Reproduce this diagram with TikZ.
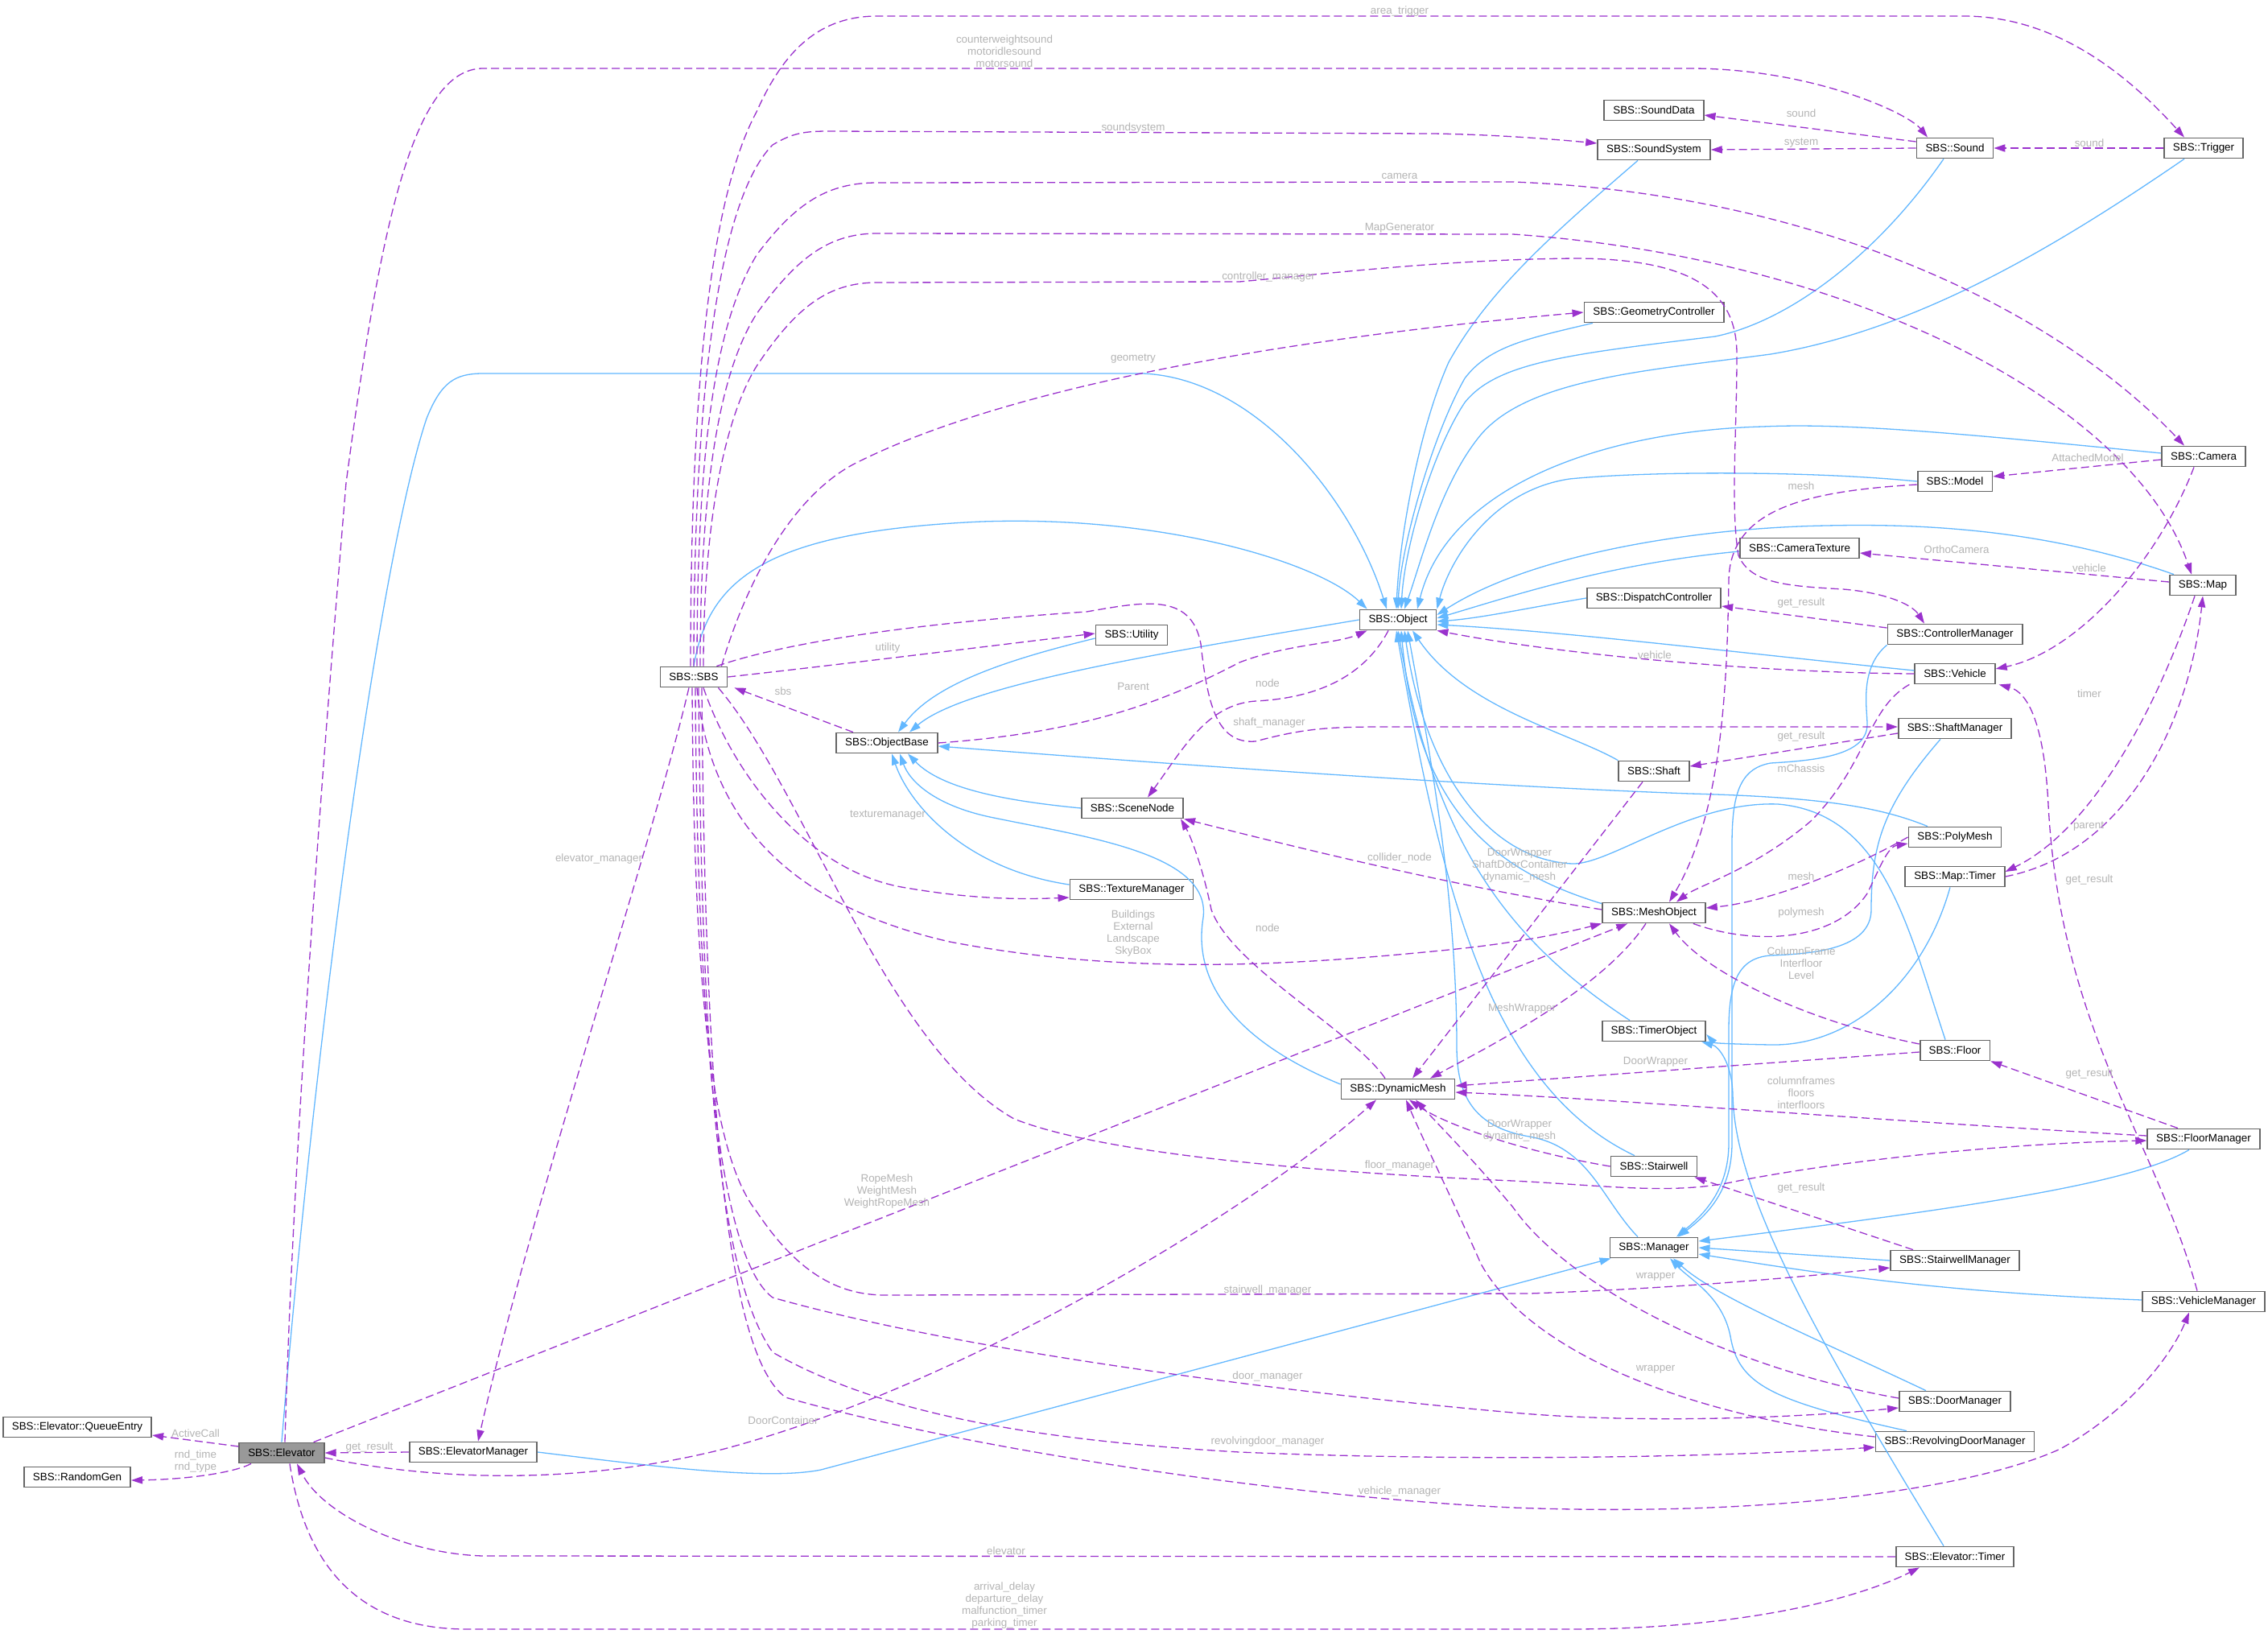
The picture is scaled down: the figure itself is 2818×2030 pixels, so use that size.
\documentclass[tikz,border=0pt]{standalone}
\usepackage{fontspec}
\setmainfont{Liberation Sans}
\usetikzlibrary{arrows.meta}
\definecolor{edgeblue}{HTML}{63B8FF}
\definecolor{edgepurple}{HTML}{9A32CD}
\definecolor{labelgrey}{HTML}{B4B4B4}
\definecolor{boxgrey}{HTML}{666666}
\definecolor{nodegrey}{HTML}{999999}

\begin{document}
\begin{tikzpicture}[x=0.5pt, y=-0.5pt,
  cls/.style={draw=boxgrey, line width=0.9pt, fill=white, minimum height=12.5pt,
    inner xsep=5.5pt, inner ysep=0pt, font=\fontsize{6.7}{7.5}\selectfont},
  lbl/.style={text=labelgrey, inner sep=0pt, align=center, font=\fontsize{6.7}{7.5}\selectfont},
  inh/.style={draw=edgeblue, line width=0.65pt, -{Triangle[length=7pt,width=4.6pt]}},
  use/.style={draw=edgepurple, line width=0.65pt, dash pattern=on 5pt off 2.5pt,
    -{Triangle[length=7pt,width=4.6pt]}}]
  \fill[white] (0,0) rectangle (2818,2030);
  \useasboundingbox (0,0) rectangle (2818,2030);

  \node[cls, fill=nodegrey] (elevator) at (350,1805) {SBS::Elevator};
  \node[cls] (queueentry) at (96,1773) {SBS::Elevator::QueueEntry};
  \node[cls] (randomgen) at (96,1835) {SBS::RandomGen};
  \node[cls] (elevmgr) at (588,1804) {SBS::ElevatorManager};
  \node[cls] (sbs) at (862,841) {SBS::SBS};
  \node[cls] (objbase) at (1102,923) {SBS::ObjectBase};
  \node[cls] (utility) at (1406,789) {SBS::Utility};
  \node[cls] (scenenode) at (1407,1004) {SBS::SceneNode};
  \node[cls] (texmgr) at (1406,1105) {SBS::TextureManager};
  \node[cls] (object) at (1737,770) {SBS::Object};
  \node[cls] (dynmesh) at (1737,1353) {SBS::DynamicMesh};
  \node[cls] (sounddata) at (2055,137) {SBS::SoundData};
  \node[cls] (soundsys) at (2055,186) {SBS::SoundSystem};
  \node[cls] (sound) at (2429,184) {SBS::Sound};
  \node[cls] (trigger) at (2738,184) {SBS::Trigger};
  \node[cls] (geomctrl) at (2055,388) {SBS::GeometryController};
  \node[cls] (camera) at (2738,567) {SBS::Camera};
  \node[cls] (model) at (2429,598) {SBS::Model};
  \node[cls] (camtex) at (2236,681) {SBS::CameraTexture};
  \node[cls] (map) at (2737,727) {SBS::Map};
  \node[cls] (dispctrl) at (2055,743) {SBS::DispatchController};
  \node[cls] (ctrlmgr) at (2429,788) {SBS::ControllerManager};
  \node[cls] (vehicle) at (2429,837) {SBS::Vehicle};
  \node[cls] (shaftmgr) at (2429,905) {SBS::ShaftManager};
  \node[cls] (shaft) at (2055,958) {SBS::Shaft};
  \node[cls] (polymesh) at (2429,1040) {SBS::PolyMesh};
  \node[cls] (maptimer) at (2429,1089) {SBS::Map::Timer};
  \node[cls] (meshobj) at (2055,1134) {SBS::MeshObject};
  \node[cls] (timerobj) at (2055,1281) {SBS::TimerObject};
  \node[cls] (floor) at (2429,1305) {SBS::Floor};
  \node[cls] (floormgr) at (2738,1415) {SBS::FloorManager};
  \node[cls] (stairwell) at (2055,1449) {SBS::Stairwell};
  \node[cls] (manager) at (2055,1550) {SBS::Manager};
  \node[cls] (stairmgr) at (2429,1566) {SBS::StairwellManager};
  \node[cls] (vehmgr) at (2738,1617) {SBS::VehicleManager};
  \node[cls] (doormgr) at (2429,1741) {SBS::DoorManager};
  \node[cls] (revdoormgr) at (2429,1791) {SBS::RevolvingDoorManager};
  \node[cls] (elevtimer) at (2429,1934) {SBS::Elevator::Timer};

  % inheritance
  \draw[inh] (sbs.north) .. controls (880,720) and (950,660) .. (1220,648) .. controls (1450,640) and (1640,700) .. ([xshift=5pt]object.north west);
  \draw[inh] (elevator.north) .. controls (390,1300) and (470,700) .. (530,520) .. controls (548,475) and (565,464) .. (600,464) -- (1420,464) .. controls (1560,470) and (1680,620) .. ([xshift=-7pt]object.north);
  \draw[inh] ([xshift=-10pt]soundsys.south) .. controls (1930,290) and (1850,360) .. (1800,450) .. controls (1760,540) and (1738,680) .. ([xshift=-1pt]object.north);
  \draw[inh] ([xshift=-7pt]sound.south) .. controls (2330,320) and (2220,400) .. (2131,418) .. controls (1950,440) and (1860,450) .. (1820,500) .. controls (1780,560) and (1745,680) .. ([xshift=2pt]object.north);
  \draw[inh] ([xshift=-38pt]geomctrl.south) .. controls (1900,420) and (1850,430) .. (1820,470) .. controls (1780,540) and (1740,680) .. (object.north);
  \draw[inh] ([xshift=-12pt]trigger.south) .. controls (2550,310) and (2380,410) .. (2200,440) .. controls (2050,460) and (1900,470) .. (1840,540) .. controls (1790,600) and (1765,700) .. ([xshift=4pt]object.north);
  \draw[inh] ([yshift=2pt]camera.west) .. controls (2450,540) and (2300,525) .. (2190,530) .. controls (2000,535) and (1800,600) .. ([xshift=12pt]object.north);
  \draw[inh] (model.west) .. controls (2250,585) and (2050,585) .. (1950,595) .. controls (1850,610) and (1800,700) .. (object.north east);
  \draw[inh] ([xshift=-18pt]map.north) .. controls (2550,660) and (2400,650) .. (2269,653) .. controls (2100,656) and (1900,690) .. ([yshift=3pt]object.east);
  \draw[inh] ([yshift=-2pt]camtex.west) .. controls (2000,700) and (1880,740) .. ([yshift=1pt]object.east);
  \draw[inh] (dispctrl.west) .. controls (1900,755) and (1840,768) .. ([yshift=-1pt]object.east);
  \draw[inh] ([yshift=2pt]vehicle.west) .. controls (2150,810) and (1950,785) .. ([yshift=-3pt]object.east);
  \draw[inh] ([yshift=-1pt]meshobj.north west) .. controls (1850,1080) and (1760,1000) .. ([xshift=2pt]object.south);
  \draw[inh] (shaft.north west) .. controls (1950,910) and (1820,880) .. ([xshift=9pt]object.south);
  \draw[inh] ([xshift=-6pt]floor.north) .. controls (2370,1150) and (2340,1010) .. (2209,999) .. controls (2100,995) and (2000,1075) .. (1953,1073) .. controls (1850,1068) and (1770,960) .. ([xshift=4pt]object.south);
  \draw[inh] ([xshift=-15pt]timerobj.north) .. controls (1860,1160) and (1780,1030) .. (object.south);
  \draw[inh] ([xshift=-12pt]stairwell.north) .. controls (1850,1350) and (1790,1100) .. ([xshift=-1pt]object.south);
  \draw[inh] ([xshift=-10pt]manager.north) .. controls (1990,1490) and (1975,1425) .. (1900,1412) .. controls (1830,1400) and (1810,1360) .. (1810,1300) .. controls (1810,1100) and (1770,900) .. ([xshift=6pt]object.south);

  \draw[inh] (object.west) .. controls (1450,810) and (1200,850) .. ([xshift=14pt]objbase.north);
  \draw[inh] ([yshift=-2pt]utility.west) .. controls (1250,820) and (1160,850) .. ([xshift=7pt]objbase.north);
  \draw[inh] (scenenode.west) .. controls (1250,995) and (1170,980) .. ([xshift=13pt]objbase.south);
  \draw[inh] ([yshift=3pt]texmgr.west) .. controls (1200,1080) and (1130,1000) .. ([xshift=3pt]objbase.south);
  \draw[inh] ([yshift=3pt]dynmesh.west) .. controls (1550,1300) and (1480,1230) .. (1495,1140) .. controls (1505,1060) and (1350,1040) .. (1230,1015) .. controls (1160,1000) and (1130,970) .. ([xshift=8pt]objbase.south);
  \draw[inh] ([xshift=-17pt]polymesh.north) .. controls (2330,1000) and (2250,990) .. (2100,986) .. controls (1800,975) and (1400,945) .. ([yshift=-2pt]objbase.east);

  \draw[inh] (ctrlmgr.south west) .. controls (2310,830) and (2320,880) .. (2320,900) .. controls (2320,940) and (2250,945) .. (2200,948) .. controls (2160,955) and (2152,990) .. (2152,1050) -- (2152,1420) .. controls (2152,1480) and (2120,1510) .. ([xshift=15pt]manager.north);
  \draw[inh] ([xshift=-9pt]shaftmgr.south) .. controls (2340,1000) and (2325,1050) .. (2325,1130) .. controls (2325,1180) and (2250,1185) .. (2200,1187) .. controls (2160,1190) and (2148,1220) .. (2148,1280) -- (2148,1420) .. controls (2148,1480) and (2115,1510) .. ([xshift=14pt]manager.north);
  \draw[inh] ([xshift=-9pt]floormgr.south) .. controls (2650,1470) and (2450,1500) .. ([yshift=4pt]manager.east);
  \draw[inh] (stairmgr.west) -- (manager.east);
  \draw[inh] ([yshift=1pt]vehmgr.west) .. controls (2400,1605) and (2250,1580) .. ([yshift=-4pt]manager.east);
  \draw[inh] ([xshift=-18pt]doormgr.north) .. controls (2250,1660) and (2130,1610) .. ([xshift=12pt]manager.south);
  \draw[inh] ([xshift=-30pt]revdoormgr.north) .. controls (2200,1740) and (2160,1720) .. (2150,1660) .. controls (2140,1610) and (2100,1590) .. ([xshift=10pt]manager.south);
  \draw[inh] (elevmgr.east) .. controls (800,1820) and (950,1840) .. (1020,1826) -- ([xshift=1pt]manager.south west);
  \draw[inh] ([xshift=-3pt]maptimer.south) .. controls (2390,1220) and (2300,1300) .. (2200,1298) .. controls (2150,1297) and (2130,1296) .. ([yshift=-2pt]timerobj.east);
  \draw[inh] ([xshift=-7pt]elevtimer.north) .. controls (2250,1650) and (2155,1480) .. (2153,1360) .. controls (2152,1320) and (2135,1300) .. ([xshift=-3pt]timerobj.south east);

  % members
  \draw[use] ([yshift=4pt]elevator.west) -- ([yshift=-5pt]queueentry.east);
  \draw[use] ([xshift=-19pt]elevator.south) .. controls (290,1830) and (230,1838) .. ([yshift=-2pt]randomgen.east);
  \draw[use] (elevmgr.west) -- (elevator.east);
  \draw[use] ([xshift=-3pt]sbs.south) .. controls (810,1050) and (660,1500) .. ([xshift=3pt]elevmgr.north);
  \draw[use] ([xshift=2pt]elevator.north) .. controls (365,1400) and (405,900) .. (430,600) .. controls (470,300) and (510,85) .. (600,85) -- (2100,85) .. controls (2250,85) and (2370,140) .. ([xshift=-17pt]sound.north);
  \draw[use] ([xshift=-2pt]sbs.north) .. controls (858,500) and (880,250) .. (940,139) .. controls (975,60) and (1020,20) .. (1090,20) -- (2440,20) .. controls (2560,20) and (2650,100) .. ([xshift=-12pt]trigger.north);
  \draw[use] (sbs.north) .. controls (862,450) and (900,240) .. (960,180) .. controls (985,165) and (1000,163) .. (1030,163) -- (1780,166) .. controls (1850,167) and (1920,172) .. ([yshift=4pt]soundsys.west);
  \draw[use] ([yshift=4pt]sound.west) -- ([yshift=-3pt]sounddata.east);
  \draw[use] (sound.west) -- (soundsys.east);
  \draw[use] (trigger.west) -- (sound.east);
  \draw[use] ([xshift=2pt]sbs.north) .. controls (866,550) and (890,400) .. (940,317) .. controls (990,250) and (1030,227) .. (1090,227) -- (1880,226) .. controls (2250,240) and (2550,380) .. ([xshift=-12pt]camera.north);
  \draw[use] ([xshift=4pt]sbs.north) .. controls (870,600) and (895,460) .. (940,390) .. controls (990,320) and (1030,290) .. (1090,290) -- (1880,291) .. controls (2300,320) and (2650,500) .. ([xshift=-7pt]map.north);
  \draw[use] ([xshift=6pt]sbs.north) .. controls (874,650) and (900,520) .. (940,455) .. controls (990,380) and (1030,351) .. (1090,351) -- (1540,350) .. controls (1650,340) and (1800,322) .. (1960,321) .. controls (2100,322) and (2158,360) .. (2158,440) .. controls (2158,540) and (2150,630) .. (2160,690) .. controls (2175,725) and (2220,728) .. (2290,732) .. controls (2340,736) and (2375,750) .. ([xshift=-19pt]ctrlmgr.north);
  \draw[use] ([yshift=4pt]ctrlmgr.west) -- ([yshift=-5pt]dispctrl.east);
  \draw[use] ([xshift=-4pt]sbs.north east) .. controls (925,730) and (980,620) .. (1060,577) .. controls (1250,480) and (1600,420) .. (geomctrl.west);
  \draw[use] ([yshift=-2pt]model.west) .. controls (2250,610) and (2150,630) .. (2148,720) .. controls (2146,850) and (2140,1010) .. ([xshift=9.5pt]meshobj.north);
  \draw[use] ([yshift=-2pt]camera.west) -- ([yshift=3pt]model.east);
  \draw[use] ([xshift=-6pt]camera.south) .. controls (2680,700) and (2580,810) .. ([yshift=3pt]vehicle.east);
  \draw[use] ([yshift=2pt]map.west) -- ([yshift=-3pt]camtex.east);
  \draw[use] ([xshift=-5pt]map.south) .. controls (2680,880) and (2600,1030) .. ([yshift=3pt]maptimer.east);
  \draw[use] (maptimer.east) .. controls (2640,1060) and (2720,900) .. (map.south);
  \draw[use] (vehicle.west) .. controls (2200,836) and (1950,815) .. (object.south east);
  \draw[use] ([xshift=-3pt]vehicle.south west) .. controls (2320,880) and (2320,950) .. (2250,1020) .. controls (2180,1080) and (2110,1100) .. ([xshift=14pt]meshobj.north);
  \draw[use] ([xshift=-4pt]vehmgr.north) .. controls (2680,1420) and (2560,1280) .. (2545,1000) .. controls (2540,900) and (2520,860) .. ([xshift=2pt]vehicle.south east);
  \draw[use] ([xshift=-7pt]sbs.north east) .. controls (1000,790) and (1200,770) .. (1350,760) .. controls (1420,748) and (1480,735) .. (1492,800) .. controls (1500,870) and (1510,925) .. (1560,921) .. controls (1620,905) and (1650,903) .. (1720,903) -- ([yshift=1pt]shaftmgr.west);
  \draw[use] ([yshift=-3pt]shaftmgr.west) -- ([yshift=3pt]shaft.east);
  \draw[use] ([xshift=-7pt]shaft.south) -- ([xshift=9pt]dynmesh.north);
  \draw[use] (stairwell.west) .. controls (1900,1432) and (1800,1400) .. ([xshift=7pt]dynmesh.south);
  \draw[use] ([xshift=-26pt]stairmgr.north) -- ([xshift=-2pt]stairwell.south east);
  \draw[use] ([xshift=-1pt]sbs.south) .. controls (862,1200) and (880,1430) .. (940,1505) .. controls (990,1580) and (1040,1609) .. (1100,1609) -- (1900,1607) .. controls (2100,1600) and (2250,1585) .. ([yshift=-4.5pt]stairmgr.west);
  \draw[use] ([xshift=-6pt]sbs.south east) .. controls (1000,980) and (1100,1300) .. (1260,1390) .. controls (1360,1430) and (1600,1455) .. (1880,1467) .. controls (2000,1473) and (2080,1485) .. (2160,1467) .. controls (2300,1440) and (2500,1420) .. ([yshift=-1pt]floormgr.west);
  \draw[use] ([yshift=4pt]floor.west) .. controls (2250,1270) and (2120,1210) .. ([xshift=9.5pt]meshobj.south);
  \draw[use] ([yshift=-1pt]floor.west) -- ([yshift=2pt]dynmesh.east);
  \draw[use] ([xshift=-16pt]floormgr.north) -- (floor.south east);
  \draw[use] ([yshift=2pt]floormgr.west) .. controls (2300,1390) and (2000,1365) .. ([yshift=-2pt]dynmesh.east);
  \draw[use] ([xshift=-5pt]meshobj.south) .. controls (1990,1230) and (1850,1300) .. ([xshift=20pt]dynmesh.north);
  \draw[use] ([yshift=2pt]meshobj.west) .. controls (1800,1100) and (1600,1050) .. (scenenode.south east);
  \draw[use] (polymesh.west) .. controls (2300,1080) and (2200,1120) .. ([yshift=3pt]meshobj.east);
  \draw[use] ([xshift=-8pt]meshobj.south east) .. controls (2180,1175) and (2280,1170) .. (2320,1110) .. controls (2335,1080) and (2345,1052) .. ([yshift=-4pt]polymesh.west);
  \draw[use] ([xshift=2pt]sbs.south) .. controls (880,1000) and (960,1120) .. (1180,1170) .. controls (1400,1212) and (1600,1200) .. (1800,1180) .. controls (1900,1170) and (1960,1155) .. (meshobj.south west);
  \draw[use] ([xshift=6pt]sbs.south) .. controls (910,960) and (1000,1080) .. (1120,1102) .. controls (1200,1116) and (1260,1118) .. ([yshift=-5pt]texmgr.west);
  \draw[use] (sbs.east) .. controls (1050,825) and (1250,800) .. ([yshift=1pt]utility.west);
  \draw[use] ([xshift=-21pt]objbase.north) -- ([xshift=4pt]sbs.south east);
  \draw[use] (objbase.east) .. controls (1350,910) and (1450,870) .. (1540,823) .. controls (1600,800) and (1660,800) .. ([xshift=5pt]object.south west);
  \draw[use] ([xshift=-6pt]object.south) .. controls (1690,850) and (1620,868) .. (1560,871) .. controls (1500,875) and (1470,930) .. ([xshift=9.5pt]scenenode.north);
  \draw[use] ([xshift=-8pt]dynmesh.north) .. controls (1680,1280) and (1530,1200) .. (1505,1130) .. controls (1495,1080) and (1480,1040) .. ([xshift=-2pt]scenenode.south east);
  \draw[use] ([yshift=-3pt]elevator.east) .. controls (520,1835) and (700,1850) .. (900,1800) .. controls (1200,1720) and (1560,1500) .. ([xshift=-13.5pt]dynmesh.south);
  \draw[use] ([xshift=-7pt]elevator.north east) -- ([xshift=16pt]meshobj.south west);
  \draw[use] ([xshift=1pt]sbs.south) .. controls (866,1250) and (890,1560) .. (960,1612) .. controls (1200,1680) and (1600,1730) .. (1880,1755) .. controls (2050,1770) and (2250,1760) .. ([yshift=-4pt]doormgr.west);
  \draw[use] ([xshift=3pt]sbs.south) .. controls (872,1300) and (890,1580) .. (960,1680) .. controls (1100,1760) and (1300,1790) .. (1540,1804) .. controls (1800,1815) and (2100,1812) .. ([yshift=-3.5pt]revdoormgr.west);
  \draw[use] ([xshift=5pt]sbs.south) .. controls (876,1350) and (900,1680) .. (976,1736) .. controls (1200,1800) and (1600,1860) .. (1880,1873) .. controls (2200,1885) and (2450,1850) .. (2560,1800) .. controls (2650,1750) and (2700,1680) .. ([xshift=-9pt]vehmgr.south);
  \draw[use] (elevtimer.west) -- (600,1933) .. controls (500,1930) and (400,1880) .. ([xshift=9.5pt]elevator.south);
  \draw[use] ([xshift=5pt]elevator.south) .. controls (380,1950) and (450,2024) .. (580,2024) -- (1950,2024) .. controls (2150,2024) and (2300,1990) .. ([xshift=-22pt]elevtimer.south);
  \draw[use] ([yshift=2pt]doormgr.west) .. controls (2150,1700) and (1950,1600) .. (1880,1500) .. controls (1830,1440) and (1790,1400) .. ([xshift=11pt]dynmesh.south);
  \draw[use] ([yshift=3pt]revdoormgr.west) .. controls (2100,1760) and (1900,1680) .. (1840,1570) .. controls (1800,1480) and (1770,1420) .. ([xshift=5pt]dynmesh.south);

  % edge labels
  \node[lbl] (tAreaTrigger) at (1739,14) {area\_trigger};
  \node[lbl] (tMotorSounds) at (1248,64) {counterweightsound\\motoridlesound\\motorsound};
  \node[lbl] (tSoundSystem) at (1408,159) {soundsystem};
  \node[lbl] (tCamera) at (1739,219) {camera};
  \node[lbl] (tMapGen) at (1739,283) {MapGenerator};
  \node[lbl] (tCtrlMgr) at (1576,344) {controller\_manager};
  \node[lbl] (tGeometry) at (1408,446) {geometry};
  \node[lbl] (tSoundData) at (2238,141) {sound};
  \node[lbl] (tSystem) at (2238,178) {system};
  \node[lbl] (tTrigSound) at (2596,178) {sound};
  \node[lbl] (tAttached) at (2594,569) {AttachedModel};
  \node[lbl] (tModelMesh) at (2238,604) {mesh};
  \node[lbl] (tOrtho) at (2431,683) {OrthoCamera};
  \node[lbl] (tCamVehicle) at (2596,706) {vehicle};
  \node[lbl] (tDispatch) at (2238,749) {get\_result};
  \node[lbl] (tVehicle) at (2056,814) {vehicle};
  \node[lbl] (tTimer) at (2596,862) {timer};
  \node[lbl] (tShaft) at (2238,915) {get\_result};
  \node[lbl] (tChassis) at (2238,955) {mChassis};
  \node[lbl] (tParentMap) at (2595,1027) {parent};
  \node[lbl] (tPolyMesh) at (2238,1089) {mesh};
  \node[lbl] (tVehResult) at (2596,1093) {get\_result};
  \node[lbl] (tPolymesh) at (2238,1134) {polymesh};
  \node[lbl] (tColumnFrame) at (2238,1197) {ColumnFrame\\Interfloor\\Level};
  \node[lbl] (tFloorDoor) at (2057,1319) {DoorWrapper};
  \node[lbl] (tFloorResult) at (2596,1334) {get\_result};
  \node[lbl] (tColumnFrames) at (2238,1358) {columnframes\\floors\\interfloors};
  \node[lbl] (tShaftDoor) at (1888,1075) {DoorWrapper\\ShaftDoorContainer\\dynamic\_mesh};
  \node[lbl] (tCollider) at (1739,1066) {collider\_node};
  \node[lbl] (tMeshWrapper) at (1891,1253) {MeshWrapper};
  \node[lbl] (tStairDoor) at (1888,1405) {DoorWrapper\\dynamic\_mesh};
  \node[lbl] (tFloorMgr) at (1739,1448) {floor\_manager};
  \node[lbl] (tStairResult) at (2238,1476) {get\_result};
  \node[lbl] (tWrapper) at (2057,1586) {wrapper};
  \node[lbl] (tStairMgr) at (1575,1603) {stairwell\_manager};
  \node[lbl] (tRevWrapper) at (2057,1701) {wrapper};
  \node[lbl] (tDoorMgr) at (1575,1710) {door\_manager};
  \node[lbl] (tRevDoorMgr) at (1575,1791) {revolvingdoor\_manager};
  \node[lbl] (tVehMgr) at (1739,1853) {vehicle\_manager};
  \node[lbl] (tElevator) at (1250,1927) {elevator};
  \node[lbl] (tTimers) at (1248,1995) {arrival\_delay\\departure\_delay\\malfunction\_timer\\parking\_timer};
  \node[lbl] (tRopeMesh) at (1102,1480) {RopeMesh\\WeightMesh\\WeightRopeMesh};
  \node[lbl] (tDoorContainer) at (973,1765) {DoorContainer};
  \node[lbl] (tActiveCall) at (243,1781) {ActiveCall};
  \node[lbl] (tRnd) at (243,1816) {rnd\_time\\rnd\_type};
  \node[lbl] (tElevResult) at (459,1798) {get\_result};
  \node[lbl] (tElevMgr) at (744,1067) {elevator\_manager};
  \node[lbl] (tUtility) at (1103,805) {utility};
  \node[lbl] (tSbs) at (973,859) {sbs};
  \node[lbl] (tParent) at (1408,853) {Parent};
  \node[lbl] (tNode) at (1575,849) {node};
  \node[lbl] (tShaftMgr) at (1577,898) {shaft\_manager};
  \node[lbl] (tTexMgr) at (1103,1013) {texturemanager};
  \node[lbl] (tBuildings) at (1408,1160) {Buildings\\External\\Landscape\\SkyBox};
  \node[lbl] (tMeshNode) at (1575,1153) {node};
\end{tikzpicture}
\end{document}
